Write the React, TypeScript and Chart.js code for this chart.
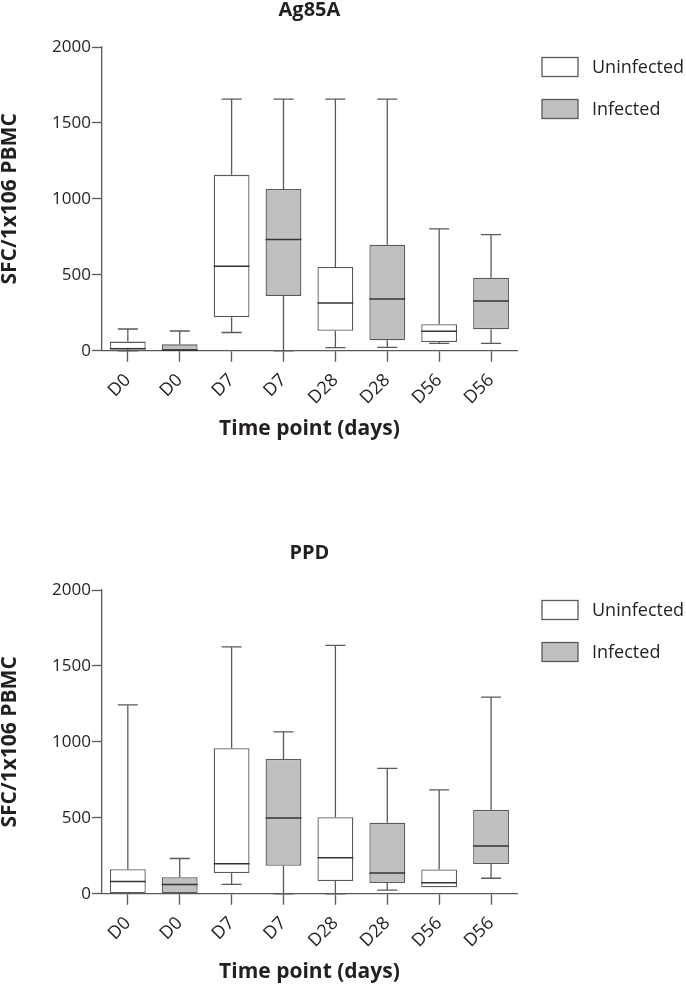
import { useEffect, useRef } from "react"
import { Chart, registerables, type ChartConfiguration, type Plugin } from "chart.js"

Chart.register(...registerables)

const timePoints = ["D0", "D0", "D7", "D7", "D28", "D28", "D56", "D56"]
const groups = ["Uninfected", "Infected"]
const groupOfBox = [0, 1, 0, 1, 0, 1, 0, 1]
const yTicks = [0, 500, 1000, 1500, 2000]

// Ag85A panel
const ag85aMin = [0, 0, 120, 0, 20, 22, 49, 49]
const ag85aQ1 = [11, 0, 221, 361, 131, 69, 58, 142]
const ag85aMedian = [13, 3, 556, 733, 314, 341, 128, 328]
const ag85aQ3 = [60, 42, 1158, 1065, 551, 698, 175, 481]
const ag85aMax = [143, 130, 1657, 1657, 1657, 1657, 802, 764]

// PPD panel
const ppdMin = [0, 0, 62, 0, 0, 24, 42, 102]
const ppdQ1 = [0, 0, 137, 184, 84, 71, 42, 195]
const ppdMedian = [80, 60, 197, 498, 237, 137, 73, 314]
const ppdQ3 = [162, 109, 958, 887, 504, 467, 160, 551]
const ppdMax = [1243, 232, 1626, 1066, 1635, 825, 684, 1294]

const textColor = "#231f20"
const lineColor = "#5a5a5a"
const fills = ["#ffffff", "#c0c0c0"]

Chart.defaults.font.family = "'Open Sans', sans-serif"

interface BoxStats {
  min: number[]
  q1: number[]
  median: number[]
  q3: number[]
  max: number[]
}

function whiskerPlugin(stats: BoxStats): Plugin<"bar"> {
  return {
    id: "whiskers",
    afterDatasetsDraw(chart) {
      const { ctx } = chart
      const y = chart.scales.y
      chart.data.datasets.forEach((_, d) => {
        const meta = chart.getDatasetMeta(d)
        meta.data.forEach((bar, i) => {
          if (groupOfBox[i] !== d) return
          const { x, width } = bar.getProps(["x", "width"], true) as { x: number; width: number }
          const cap = (width * 0.56) / 2
          const yMax = y.getPixelForValue(stats.max[i])
          const yQ3 = y.getPixelForValue(stats.q3[i])
          const yQ1 = y.getPixelForValue(stats.q1[i])
          const yMin = y.getPixelForValue(stats.min[i])
          const yMed = y.getPixelForValue(stats.median[i])
          ctx.save()
          ctx.strokeStyle = lineColor
          ctx.lineWidth = 1.3
          ctx.beginPath()
          ctx.moveTo(x, yQ3)
          ctx.lineTo(x, yMax)
          ctx.moveTo(x - cap, yMax)
          ctx.lineTo(x + cap, yMax)
          if (stats.min[i] < stats.q1[i]) {
            ctx.moveTo(x, yQ1)
            ctx.lineTo(x, yMin)
            ctx.moveTo(x - cap, yMin)
            ctx.lineTo(x + cap, yMin)
          }
          ctx.stroke()
          ctx.strokeStyle = "#333333"
          ctx.lineWidth = 1.5
          ctx.beginPath()
          ctx.moveTo(x - width / 2, yMed)
          ctx.lineTo(x + width / 2, yMed)
          ctx.stroke()
          ctx.restore()
        })
      })
    },
  }
}

// legend boxes to the right of the plot
const sideLegend: Plugin<"bar"> = {
  id: "sideLegend",
  afterDraw(chart) {
    const { ctx, chartArea } = chart
    ctx.save()
    chart.data.datasets.forEach((ds, i) => {
      const x = chartArea.right + 25
      const y = chartArea.top + 10.5 + i * 42
      ctx.fillStyle = ds.backgroundColor as string
      ctx.fillRect(x, y, 36, 19)
      ctx.strokeStyle = lineColor
      ctx.lineWidth = 1.3
      ctx.strokeRect(x, y, 36, 19)
      ctx.fillStyle = textColor
      ctx.font = "18px 'Open Sans', sans-serif"
      ctx.textBaseline = "middle"
      ctx.textAlign = "left"
      ctx.fillText(ds.label ?? "", x + 50, y + 10)
    })
    ctx.restore()
  },
}

function BoxPlotChart({ title, stats }: { title: string; stats: BoxStats }) {
  const chartRef = useRef<HTMLCanvasElement>(null)
  const chartInstance = useRef<Chart | null>(null)

  useEffect(() => {
    if (!chartRef.current) return
    const ctx = chartRef.current.getContext("2d")
    if (!ctx) return

    if (chartInstance.current) {
      chartInstance.current.destroy()
    }

    const config: ChartConfiguration<"bar"> = {
      type: "bar",
      data: {
        labels: timePoints,
        datasets: groups.map((g, d) => ({
          label: g,
          data: timePoints.map((_, i) => (groupOfBox[i] === d ? [stats.q1[i], stats.q3[i]] : null)) as any,
          backgroundColor: fills[d],
          borderColor: lineColor,
          borderWidth: 1.3,
          borderSkipped: false,
          grouped: false,
          barPercentage: 0.69,
          categoryPercentage: 1,
        })),
      },
      options: {
        animation: false,
        responsive: true,
        maintainAspectRatio: false,
        layout: { padding: { left: 0, right: 169, top: 0, bottom: 0 } },
        scales: {
          x: {
            offset: true,
            grid: {
              display: true,
              drawOnChartArea: false,
              offset: false,
              tickLength: 11,
              tickColor: lineColor,
              tickWidth: 1.3,
            },
            border: { display: true, color: lineColor, width: 1.3 },
            ticks: {
              autoSkip: false,
              minRotation: 45,
              maxRotation: 45,
              padding: 8,
              color: textColor,
              font: { size: 18 },
            },
            title: {
              display: true,
              text: "Time point (days)",
              color: textColor,
              font: { size: 21, weight: "bold" },
              padding: { top: 0, bottom: 3 },
            },
          },
          y: {
            min: 0,
            max: 2000,
            afterBuildTicks: (scale) => {
              scale.ticks = yTicks.map((v) => ({ value: v }))
            },
            grid: {
              display: true,
              drawOnChartArea: false,
              tickLength: 10,
              tickColor: lineColor,
              tickWidth: 1.3,
            },
            border: { display: true, color: lineColor, width: 1.3 },
            ticks: {
              padding: 1,
              color: textColor,
              font: { size: 17 },
              callback: (v) => String(v),
            },
            title: {
              display: true,
              text: "SFC/1x106 PBMC",
              color: textColor,
              font: { size: 21, weight: "bold", lineHeight: 1 },
              padding: { top: 0, bottom: 30 },
            },
          },
        },
        plugins: {
          legend: { display: false },
          tooltip: { enabled: false },
          title: {
            display: true,
            text: title,
            fullSize: false,
            color: textColor,
            font: { size: 20, weight: "bold", lineHeight: 1 },
            padding: { top: 0, bottom: 27 },
          },
        },
      },
      plugins: [whiskerPlugin(stats), sideLegend],
    }

    chartInstance.current = new Chart(ctx, config)

    return () => {
      if (chartInstance.current) {
        chartInstance.current.destroy()
        chartInstance.current = null
      }
    }
  }, [title, stats])

  return <canvas ref={chartRef} />
}

const ag85aStats: BoxStats = { min: ag85aMin, q1: ag85aQ1, median: ag85aMedian, q3: ag85aQ3, max: ag85aMax }
const ppdStats: BoxStats = { min: ppdMin, q1: ppdQ1, median: ppdMedian, q3: ppdQ3, max: ppdMax }

export default function App() {
  return (
    <div style={{ position: "absolute", left: 0, top: 0, width: 686, height: 985, overflow: "hidden", background: "#fff" }}>
      <div style={{ position: "absolute", left: 0, top: 0, width: 686, height: 445 }}>
        <BoxPlotChart title="Ag85A" stats={ag85aStats} />
      </div>
      <div style={{ position: "absolute", left: 0, top: 543, width: 686, height: 445 }}>
        <BoxPlotChart title="PPD" stats={ppdStats} />
      </div>
    </div>
  )
}
